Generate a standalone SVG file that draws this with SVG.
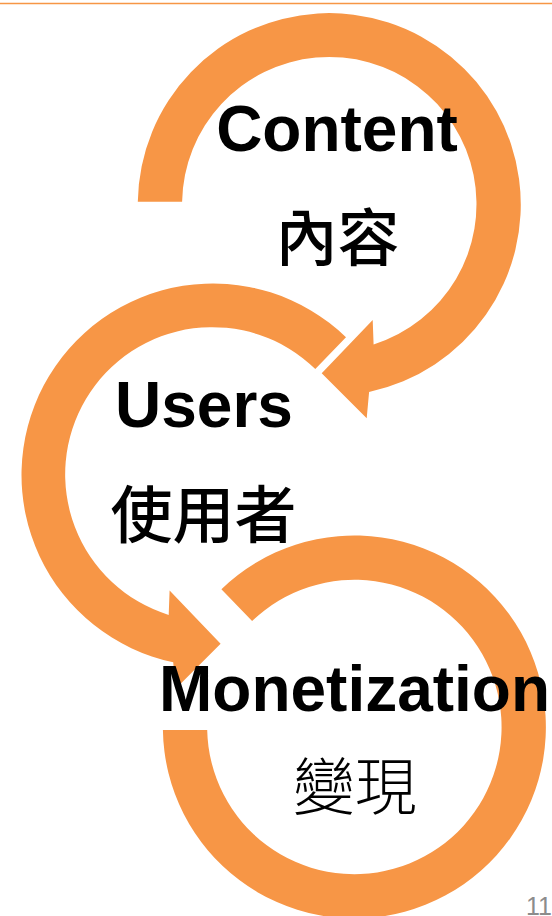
<svg xmlns="http://www.w3.org/2000/svg" width="552" height="916" viewBox="0 0 552 916">
  <style>
    .arc { fill: #F79646; stroke: none; }
    .en { font-family: "Liberation Sans", Arial, sans-serif; font-weight: bold; font-size: 64px; fill: #000000; text-anchor: middle; }
    .zh { font-family: "Noto Sans CJK TC", "Noto Sans CJK SC", sans-serif; font-size: 62px; font-weight: 500; fill: #000000; text-anchor: middle; }
    .pg { font-family: "Liberation Sans", Arial, sans-serif; font-size: 25px; fill: #8C8C8C; }
  </style>
  <rect x="0" y="0" width="552" height="916" fill="#FFFFFF"/>
  <line x1="0" y1="3.5" x2="552" y2="3.5" stroke="#F79646" stroke-width="1.5"/>

  <g id="connectors">
    <path id="arc-content" class="arc" d="M 137.8,201.7 A 191.5 191.5 0 1 1 369.1,391.9 L 366.7,418.3 L 321.7,373.3 L 372.7,320 L 373.6,344.5 A 147.2 147.2 0 1 0 182.1,201.7 Z"/>
    <path id="arc-users" class="arc" d="M 346.0,337.2 A 191.5 191.5 0 1 0 173.2,662.3 L 175.6,688.7 L 220.6,643.7 L 169.6,590.4 L 168.7,614.9 A 147.2 147.2 0 1 1 315.3,369.1 Z"/>
    <path id="arc-monetization" class="arc" d="M 221.4,589.2 A 191.5 191.5 0 1 1 162.9,730 L 207.2,730 A 147.2 147.2 0 1 0 252.1,621.1 Z"/>
  </g>

  <g id="node-content">
    <text class="en" x="337" y="151">Content</text>
    <text class="zh" x="337.5" y="261">內容</text>
  </g>
  <g id="node-users">
    <text class="en" x="204" y="427">Users</text>
    <text class="zh" x="203.5" y="538">使用者</text>
  </g>
  <g id="node-monetization">
    <text class="en" x="354.5" y="711">Monetization</text>
    <text class="zh" x="354.7" y="810" style="font-weight:300">變現</text>
  </g>

  <text class="pg" x="526" y="915">11</text>
</svg>
